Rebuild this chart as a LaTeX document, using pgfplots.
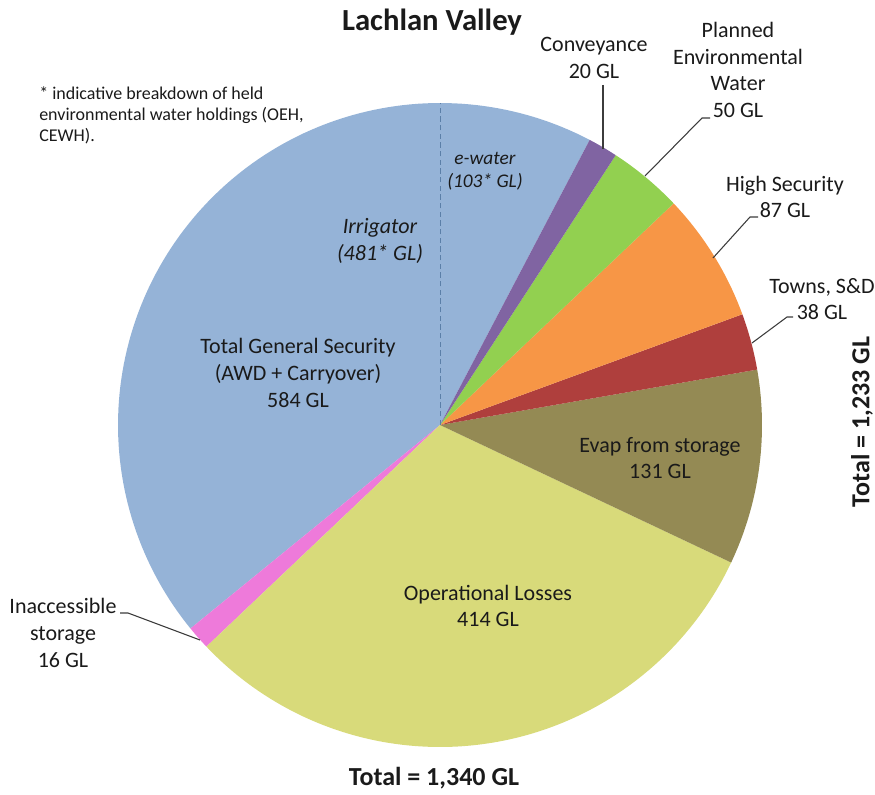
\documentclass[border=0pt]{standalone}
\usepackage{fontspec}
\setmainfont{Carlito}
\usepackage{pgfplots}
\pgfplotsset{compat=1.18}
\definecolor{cBlue}{HTML}{95B3D7}
\definecolor{cPink}{HTML}{EE7ADA}
\definecolor{cYellow}{HTML}{D8DA7A}
\definecolor{cBrown}{HTML}{948A54}
\definecolor{cRed}{HTML}{AF3F3D}
\definecolor{cOrange}{HTML}{F79646}
\definecolor{cGreen}{HTML}{92D050}
\definecolor{cPurple}{HTML}{8064A2}
\definecolor{cDash}{HTML}{5B7FA8}
\definecolor{cText}{HTML}{1A1A1A}
% slice: colour, cumulative start (GL), value (GL); total 1340 GL
\newcommand{\slice}[3]{%
  \addplot[fill=#1, draw=none, domain=62.3+#2/1340*360:62.3+(#2+#3)/1340*360,
    samples=120, variable=\t] ({322*cos(\t)},{322*sin(\t)}) -- (axis cs:0,0) -- cycle;}
\newcommand{\lab}{\fontsize{16.5}{20}\selectfont}
\begin{document}
\begin{tikzpicture}
\begin{axis}[scale only axis, width=656.25pt, height=595.5pt,
  xmin=-440, xmax=435, ymin=-369, ymax=425, hide axis, clip=false]
\slice{cBlue}{0}{584}
\slice{cPink}{584}{16}
\slice{cYellow}{600}{414}
\slice{cBrown}{1014}{131}
\slice{cRed}{1145}{38}
\slice{cOrange}{1183}{87}
\slice{cGreen}{1270}{50}
\slice{cPurple}{1320}{20}
% e-water / irrigator split
\addplot[cDash, line width=0.75pt, dash pattern=on 4pt off 2.5pt] coordinates {(0,0) (0,322)};
% leader lines
\addplot[cText!85, line width=0.8pt] coordinates {(163,340) (163,276)};
\addplot[cText!85, line width=0.8pt] coordinates {(270,307) (262,307) (205,249)};
\addplot[cText!85, line width=0.8pt] coordinates {(318,208) (310,208) (273,167)};
\addplot[cText!85, line width=0.8pt] coordinates {(353,108) (347,108) (312,82)};
\addplot[cText!85, line width=0.8pt] coordinates {(-320,-188) (-312,-188) (-240,-215)};
\coordinate (SW) at (axis cs:-440,-369);
\coordinate (NE) at (axis cs:435,425);
% texts
\node[font=\fontsize{23}{27}\selectfont\bfseries, text=cText] at (axis cs:-8,403) {Lachlan Valley};
\node[font=\fontsize{13.5}{16.1}\selectfont, text=cText, align=left, anchor=north west, inner sep=0pt] at (axis cs:-401,339)
  {* indicative breakdown of held\\environmental water holdings (OEH,\\CEWH).};
\node[font=\lab, text=cText, align=center] at (axis cs:154,367) {Conveyance\\20 GL};
\node[font=\lab, text=cText, align=center] at (axis cs:298,355) {Planned\\Environmental\\Water\\50 GL};
\node[font=\lab, text=cText, align=center] at (axis cs:345,228) {High Security\\87 GL};
\node[font=\lab, text=cText, align=center] at (axis cs:382,126) {Towns, S\&D\\38 GL};
\node[font=\fontsize{19.5}{23}\selectfont\bfseries, text=cText, rotate=90] at (axis cs:422,3) {Total = 1,233 GL};
\node[font=\lab, text=cText, align=center] at (axis cs:220,-33) {Evap from storage\\131 GL};
\node[font=\lab, text=cText, align=center] at (axis cs:48,-181) {Operational Losses\\414 GL};
\node[font=\lab, text=cText, align=center] at (axis cs:-142,52) {Total General Security\\(AWD + Carryover)\\584 GL};
\node[font=\lab\itshape, text=cText, align=center] at (axis cs:-60,184) {Irrigator\\(481* GL)};
\node[font=\fontsize{14.5}{17.5}\selectfont\itshape, text=cText, align=center] at (axis cs:45,254) {e-water\\(103* GL)};
\node[font=\lab, text=cText, align=center] at (axis cs:-377,-208) {Inaccessible\\storage\\16 GL};
\node[font=\fontsize{19.5}{23}\selectfont\bfseries, text=cText] at (axis cs:-6,-353) {Total = 1,340 GL};
\end{axis}
\pgfresetboundingbox
\useasboundingbox (SW) rectangle (NE);
\end{tikzpicture}
\end{document}
